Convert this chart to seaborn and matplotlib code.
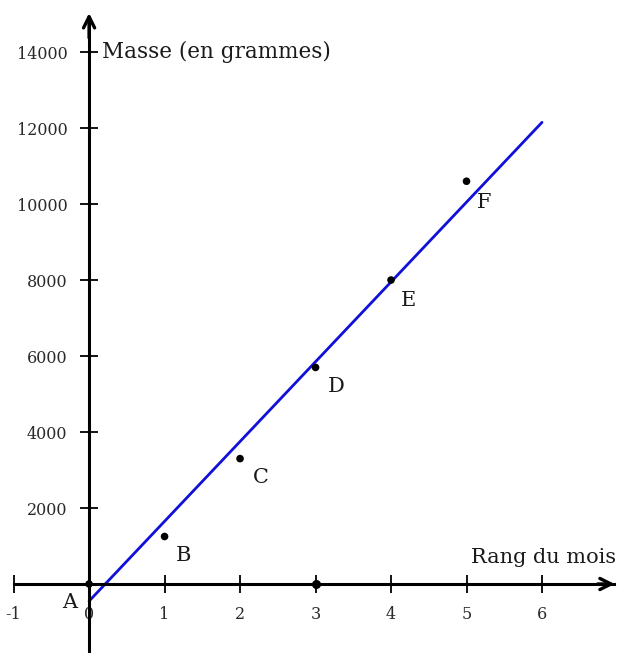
import matplotlib
matplotlib.use("Agg")
import matplotlib.pyplot as plt
import seaborn as sns
import pandas as pd

# data
mois = [0, 1, 2, 3, 4, 5]
masse = [0, 1250, 3300, 5700, 8000, 10600]
noms = ["A", "B", "C", "D", "E", "F"]
droite_x = [0, 6]
droite_y = [-450, 12150]
x_ticks = [-1, 0, 1, 2, 3, 4, 5, 6]
y_ticks = [2000, 4000, 6000, 8000, 10000, 12000, 14000]

sns.set_style("white")
plt.rcParams["font.family"] = ["DejaVu Serif"]
plt.rcParams["axes.unicode_minus"] = False

df = pd.DataFrame({"mois": mois, "masse": masse, "nom": noms})
droite = pd.DataFrame({"x": droite_x, "y": droite_y})

fig = plt.figure(figsize=(6.19, 6.53), dpi=100)
ax = fig.add_axes([0, 0, 1, 1])
ax.set_xlim(-1.18, 7.02)
ax.set_ylim(-1816, 15370)

# axes through the origin
for s in ["top", "right"]:
    ax.spines[s].set_visible(False)
for s in ["left", "bottom"]:
    ax.spines[s].set_position(("data", 0))
    ax.spines[s].set_linewidth(2.2)
    ax.spines[s].set_color("black")
ax.spines["left"].set_bounds(-1816, 14900)
ax.spines["bottom"].set_bounds(-1, 6.95)
ax.annotate("", xy=(7.0, 0), xytext=(6.7, 0),
            arrowprops=dict(arrowstyle="->", lw=2.4, color="black", mutation_scale=20))
ax.annotate("", xy=(0, 15100), xytext=(0, 14300),
            arrowprops=dict(arrowstyle="->", lw=2.4, color="black", mutation_scale=20))

ax.set_xticks(x_ticks)
ax.set_yticks(y_ticks)
ax.tick_params(axis="both", bottom=True, left=True, direction="inout", length=13,
               width=1.3, color="black", labelsize=11.5, labelcolor="#2a2a2a", pad=9)

sns.lineplot(data=droite, x="x", y="y", ax=ax, color="#1010d8", lw=2)
sns.scatterplot(data=df, x="mois", y="masse", ax=ax, color="black", s=30,
                edgecolor="none", zorder=5)
ax.plot([3], [0], "o", color="black", ms=5.5, zorder=5)
ax.set_xlabel("")
ax.set_ylabel("")

# point labels
offsets = {"A": (-0.26, -500), "B": (0.25, -500), "C": (0.27, -500),
           "D": (0.27, -500), "E": (0.23, -550), "F": (0.23, -550)}
for m, v, n in zip(mois, masse, noms):
    dx, dy = offsets[n]
    ax.text(m + dx, v + dy, n, fontsize=15, ha="center", va="center", color="#1a1a1a")

ax.text(0.17, 14000, "Masse (en grammes)", fontsize=15.5, ha="left", va="center",
        color="#1a1a1a")
ax.text(6.98, 700, "Rang du mois", fontsize=15, ha="right", va="center",
        color="#1a1a1a")

fig.savefig("out.png", dpi=100)
